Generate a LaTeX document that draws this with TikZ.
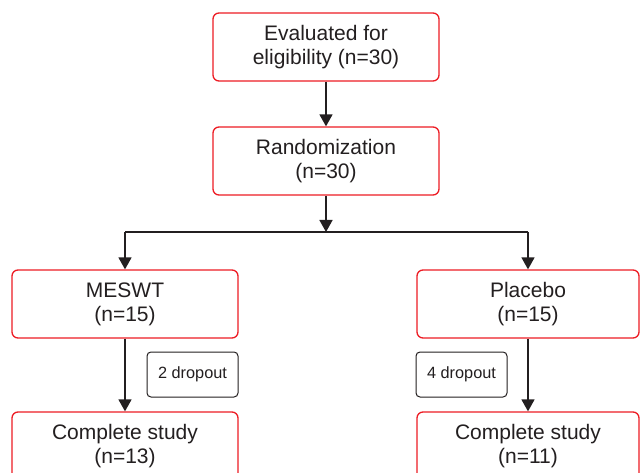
\documentclass[tikz,border=0pt]{standalone}
\usepackage{fontspec}
\setmainfont{Liberation Sans}
\usetikzlibrary{arrows.meta}
\definecolor{boxred}{RGB}{237,28,36}
\definecolor{ink}{RGB}{35,31,32}
\tikzset{
  redbox/.style={draw=boxred, line width=1.3pt, rounded corners=6pt, fill=white,
    minimum height=68pt, align=center, text=ink, inner sep=2pt,
    font=\fontsize{21pt}{24pt}\selectfont},
  dropbox/.style={draw=ink, line width=1pt, rounded corners=4pt, fill=white,
    minimum width=91pt, minimum height=45pt, align=center, text=ink,
    font=\fontsize{16.3pt}{19pt}\selectfont},
  conn/.style={draw=ink, line width=1.6pt},
  arr/.style={conn, -{Triangle[width=13pt,length=12pt]}}
}
\begin{document}
\begin{tikzpicture}[x=1pt,y=-1pt]
\useasboundingbox (0,0) rectangle (640,473);
\clip (0,0) rectangle (640,473);
\node[redbox, minimum width=226pt] (eval) at (326,47) {Evaluated for\\eligibility (n=30)};
\node[redbox, minimum width=226pt] (rand) at (326,161) {Randomization\\(n=30)};
\node[redbox, minimum width=226pt] (meswt) at (125,304) {MESWT\\(n=15)};
\node[redbox, minimum width=222pt] (plac) at (528,304) {Placebo\\(n=15)};
\node[redbox, minimum width=226pt] (compl) at (125,446) {Complete study\\(n=13)};
\node[redbox, minimum width=222pt] (compr) at (528,446) {Complete study\\(n=11)};
\node[dropbox] (dropl) at (192.5,374.5) {2 dropout};
\node[dropbox] (dropr) at (461.5,374.5) {4 dropout};
\coordinate (j) at (326,232);
\draw[arr] (eval.south) -- (rand.north);
\draw[arr] (rand.south) -- (j);
\draw[conn] (meswt.north |- j) -- (plac.north |- j);
\draw[arr] (meswt.north |- j) -- (meswt.north);
\draw[arr] (plac.north |- j) -- (plac.north);
\draw[arr] (meswt.south) -- (compl.north);
\draw[arr] (plac.south) -- (compr.north);
\end{tikzpicture}
\end{document}
